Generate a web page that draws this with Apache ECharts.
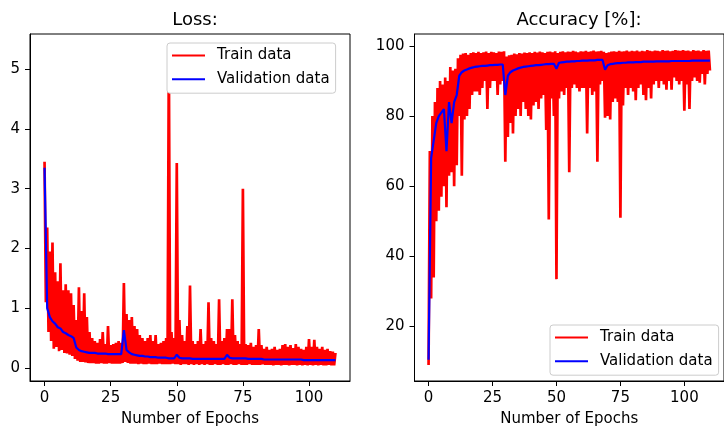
<!DOCTYPE html>
<html>
<head>
<meta charset="utf-8">
<script src="https://cdn.jsdelivr.net/npm/echarts@6/dist/echarts.min.js"></script>
<style>
  html, body { margin: 0; padding: 0; background: #fff; }
  #chart { width: 724px; height: 432px; }
</style>
</head>
<body>
<div id="chart"></div>
<script>
  // per-epoch readings (epoch 0..110)
  // train loss: peak / trough of the noisy band
  const lossHi = [
    3.45, 2.35, 1.95, 2.10, 1.60, 1.45, 1.75, 1.30, 1.40, 1.30,
    1.25, 1.05, 0.80, 1.35, 0.95, 1.25, 0.85, 0.60, 0.50, 0.45,
    0.42, 0.48, 0.60, 0.40, 0.70, 0.38, 0.40, 0.42, 0.45, 0.42,
    1.42, 0.90, 0.80, 0.85, 0.70, 0.65, 0.55, 0.50, 0.45, 0.50,
    0.55, 0.45, 0.55, 0.40, 0.42, 0.45, 0.50, 5.30, 0.60, 0.50,
    3.43, 0.80, 0.55, 0.45, 0.70, 1.38, 0.45, 0.40, 0.45, 0.65,
    0.40, 0.45, 1.10, 0.50, 0.45, 0.40, 1.15, 0.45, 0.50, 0.65,
    0.65, 1.15, 0.55, 0.45, 0.40, 3.00, 0.40, 0.38, 0.42, 0.35,
    0.38, 0.65, 0.38, 0.32, 0.35, 0.30, 0.32, 0.35, 0.30, 0.32,
    0.38, 0.40, 0.35, 0.38, 0.33, 0.40, 0.35, 0.32, 0.30, 0.35,
    0.48, 0.35, 0.47, 0.35, 0.32, 0.35, 0.30, 0.32, 0.28, 0.27, 0.25
  ]
  const lossLo = [
    1.10, 0.60, 0.45, 0.32, 0.35, 0.28, 0.30, 0.25, 0.24, 0.22,
    0.20, 0.15, 0.12, 0.10, 0.10, 0.09, 0.08, 0.08, 0.08, 0.07,
    0.07, 0.08, 0.07, 0.07, 0.08, 0.07, 0.07, 0.07, 0.07, 0.08,
    0.10, 0.08, 0.07, 0.07, 0.07, 0.06, 0.07, 0.06, 0.06, 0.07,
    0.06, 0.06, 0.06, 0.07, 0.06, 0.06, 0.06, 0.06, 0.07, 0.06,
    0.06, 0.05, 0.06, 0.06, 0.05, 0.06, 0.05, 0.06, 0.05, 0.06,
    0.05, 0.06, 0.05, 0.05, 0.06, 0.05, 0.05, 0.06, 0.05, 0.05,
    0.06, 0.05, 0.05, 0.06, 0.05, 0.05, 0.05, 0.06, 0.05, 0.05,
    0.05, 0.05, 0.06, 0.05, 0.05, 0.05, 0.04, 0.05, 0.05, 0.04,
    0.05, 0.05, 0.04, 0.05, 0.05, 0.04, 0.05, 0.04, 0.05, 0.04,
    0.05, 0.04, 0.05, 0.04, 0.05, 0.04, 0.04, 0.05, 0.04, 0.04, 0.05
  ]
  const valLoss = [
    3.35, 1.00, 0.85, 0.78, 0.74, 0.68, 0.66, 0.60, 0.58, 0.55,
    0.53, 0.50, 0.34, 0.30, 0.28, 0.27, 0.26, 0.25, 0.25, 0.25,
    0.24, 0.24, 0.24, 0.24, 0.23, 0.23, 0.23, 0.23, 0.23, 0.23,
    0.63, 0.30, 0.26, 0.23, 0.22, 0.21, 0.20, 0.20, 0.19, 0.19,
    0.18, 0.18, 0.18, 0.17, 0.17, 0.17, 0.17, 0.16, 0.16, 0.16,
    0.22, 0.17, 0.16, 0.16, 0.16, 0.16, 0.15, 0.15, 0.15, 0.15,
    0.15, 0.15, 0.15, 0.15, 0.15, 0.15, 0.15, 0.15, 0.15, 0.22,
    0.17, 0.16, 0.16, 0.16, 0.16, 0.16, 0.16, 0.15, 0.15, 0.15,
    0.15, 0.15, 0.15, 0.14, 0.14, 0.14, 0.14, 0.14, 0.14, 0.14,
    0.14, 0.14, 0.14, 0.14, 0.14, 0.14, 0.14, 0.14, 0.13, 0.13,
    0.13, 0.13, 0.13, 0.13, 0.13, 0.13, 0.13, 0.13, 0.13, 0.13, 0.13
  ]

  // train accuracy: trough / peak of the noisy band
  const accLo = [
    9, 28, 34, 50, 53, 57, 60, 54, 63, 64,
    60, 66, 80, 63, 79, 80, 82, 86, 87, 87,
    86, 88, 90, 82, 88, 90, 90, 86, 89, 90,
    67, 74, 78, 75, 80, 82, 80, 84, 82, 80,
    79, 83, 84, 82, 85, 86, 76, 50.5, 85, 80,
    33.5, 85, 87, 86, 88, 64, 88, 89, 88, 87,
    88, 88, 75, 88, 86, 87, 67, 89, 90, 79.5,
    80, 79, 84, 85, 84, 51, 83, 88, 86, 88,
    87, 84.5, 88, 89, 86, 84.5, 88, 85, 89, 90,
    88, 90, 89, 87.5, 90, 87.5, 91, 90, 89, 90,
    81.5, 89, 82, 90, 91, 90, 89.5, 92, 89, 92, 93
  ]
  const accHi = [
    70, 80, 84, 88, 90, 89, 91, 90, 94, 93,
    93.5, 96.5, 97.5, 97.8, 98.0, 97.5, 98.0, 98.2, 98.0, 98.3,
    98.0, 98.2, 98.4, 98.0, 98.3, 98.2, 98.0, 98.4, 98.3, 98.5,
    97.0, 97.3, 97.5, 97.8, 97.6, 98.0, 97.8, 98.1, 98.0, 98.2,
    98.0, 98.3, 98.1, 98.4, 98.2, 98.0, 98.3, 98.4, 98.2, 98.5,
    98.0, 98.3, 98.5, 98.2, 98.4, 98.3, 98.6, 98.4, 98.2, 98.5,
    98.4, 98.6, 98.3, 98.5, 98.7, 98.4, 98.5, 98.6, 98.3, 98.0,
    98.2, 98.4, 98.5, 98.3, 98.6, 98.4, 98.5, 98.7, 98.4, 98.6,
    98.5, 98.7, 98.4, 98.6, 98.5, 98.8, 98.6, 98.5, 98.7, 98.6,
    98.5, 98.8, 98.6, 98.7, 98.5, 98.6, 98.8, 98.7, 98.6, 98.8,
    98.6, 98.7, 98.5, 98.8, 98.6, 98.7, 98.5, 98.8, 98.6, 98.7, 98.4
  ]
  const valAcc = [
    10.5, 68, 73, 78, 80, 81, 82, 70, 84, 78,
    84, 86, 91.5, 92.5, 93, 93.3, 93.6, 93.8, 94, 94.1,
    94.2, 94.3, 94.3, 94.4, 94.5, 94.5, 94.6, 94.6, 94.7, 94.7,
    86, 91.5, 92.5, 93, 93.3, 93.6, 93.8, 94, 94.1, 94.2,
    94.3, 94.4, 94.5, 94.5, 94.6, 94.7, 94.8, 94.8, 94.9, 94.9,
    93.5, 95.2, 95.3, 95.4, 95.5, 95.5, 95.6, 95.6, 95.7, 95.7,
    95.8, 95.8, 95.8, 95.9, 95.9, 95.9, 96, 96, 96, 93.2,
    94.5, 94.8, 94.9, 95, 95.1, 95.1, 95.2, 95.2, 95.3, 95.3,
    95.3, 95.4, 95.4, 95.4, 95.5, 95.5, 95.5, 95.5, 95.5, 95.6,
    95.6, 95.6, 95.6, 95.6, 95.6, 95.7, 95.7, 95.7, 95.7, 95.7,
    95.7, 95.7, 95.7, 95.8, 95.8, 95.8, 95.8, 95.8, 95.8, 95.8, 95.8
  ]

  const epochTicks = [0, 25, 50, 75, 100]
  const lossTicks = [0, 1, 2, 3, 4, 5]
  const accTicks = [20, 40, 60, 80, 100]

  // train curve swings between the two band readings within each epoch
  function band(first, second) {
    let out = []
    for (let i = 0; i < first.length; i++) {
      out.push([i, first[i]])
      if (i < first.length - 1) out.push([i + 0.5, second[i]])
    }
    return out
  }
  function perEpoch(arr) {
    return arr.map((v, i) => [i, v])
  }

  const font = 'DejaVu Sans'
  const txt = { fontFamily: font, fontSize: 15, color: '#000' }

  function xAxis(idx) {
    return {
      gridIndex: idx,
      type: 'value',
      min: -5.5,
      max: 115.5,
      name: 'Number of Epochs',
      nameLocation: 'middle',
      nameGap: 31,
      nameTextStyle: txt,
      axisLine: { show: true, onZero: false, lineStyle: { color: '#000', width: 1 } },
      axisTick: { show: true, length: 5, customValues: epochTicks, lineStyle: { color: '#000' } },
      axisLabel: Object.assign({ customValues: epochTicks, margin: 10 }, txt),
      splitLine: { show: false }
    }
  }
  function yAxis(idx, min, max, ticks) {
    return {
      gridIndex: idx,
      type: 'value',
      min: min,
      max: max,
      axisLine: { show: true, onZero: false, lineStyle: { color: '#000', width: 1 } },
      axisTick: { show: true, length: 5, customValues: ticks, lineStyle: { color: '#000' } },
      axisLabel: Object.assign({ customValues: ticks, margin: 10 }, txt),
      splitLine: { show: false }
    }
  }
  function legend(left, top) {
    return {
      left: left,
      top: top,
      orient: 'vertical',
      data: ['Train data', 'Validation data'],
      icon: 'rect',
      itemWidth: 33,
      itemHeight: 2,
      itemGap: 7.7,
      padding: [4.5, 6, 6, 5],
      backgroundColor: '#fff',
      borderColor: '#cccccc',
      borderWidth: 1,
      borderRadius: 3,
      selectedMode: false,
      textStyle: Object.assign({ lineHeight: 16, padding: [0, 0, 0, 7] }, txt)
    }
  }
  function line(name, data, color, width, gi, z) {
    return {
      name: name,
      type: 'line',
      xAxisIndex: gi,
      yAxisIndex: gi,
      data: data,
      symbol: 'none',
      z: z,
      lineStyle: { color: color, width: width, join: 'bevel' },
      itemStyle: { color: color }
    }
  }

  const chart = echarts.init(document.getElementById('chart'), null, { renderer: 'canvas' })
  chart.setOption({
    animation: false,
    backgroundColor: '#fff',
    title: [
      { text: 'Loss:', left: 190, top: 6, textAlign: 'center',
        textStyle: { fontFamily: font, fontSize: 18, fontWeight: 'normal', color: '#000' } },
      { text: 'Accuracy [%]:', left: 574, top: 6, textAlign: 'center',
        textStyle: { fontFamily: font, fontSize: 18, fontWeight: 'normal', color: '#000' } }
    ],
    legend: [legend(167, 43), legend(550, 325)],
    grid: [
      { left: 30, top: 34, width: 320, height: 350, show: true, borderColor: '#000', borderWidth: 1 },
      { left: 414.5, top: 34, width: 320, height: 350, show: true, borderColor: '#000', borderWidth: 1 }
    ],
    xAxis: [xAxis(0), xAxis(1)],
    yAxis: [yAxis(0, -0.22, 5.59, lossTicks), yAxis(1, 4.45, 103.4, accTicks)],
    series: [
      line('Train data', band(lossHi, lossLo), '#ff0000', 2.7, 0, 2),
      line('Validation data', perEpoch(valLoss), '#0000ff', 2.2, 0, 3),
      line('Train data', band(accLo, accHi), '#ff0000', 2.7, 1, 2),
      line('Validation data', perEpoch(valAcc), '#0000ff', 2.2, 1, 3)
    ]
  })
</script>
</body>
</html>
